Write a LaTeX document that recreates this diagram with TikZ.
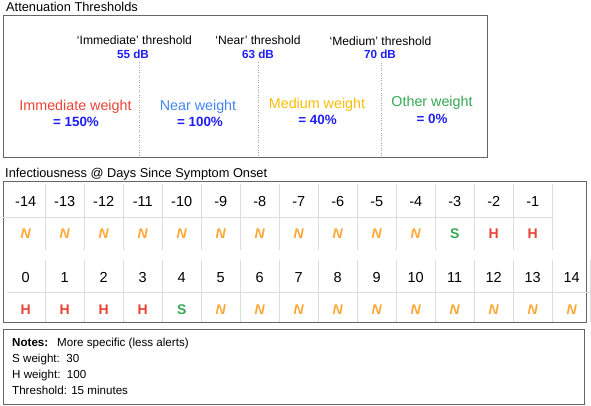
\documentclass[tikz,border=0pt]{standalone}
\usepackage{fontspec}
\setmainfont{Liberation Sans}
\usepackage{tikz}
\definecolor{frame}{HTML}{666666}
\definecolor{gridgray}{HTML}{DDDDDD}
\definecolor{dbblue}{RGB}{30,30,245}
\definecolor{gred}{HTML}{EA4335}
\definecolor{gblue}{HTML}{4285F4}
\definecolor{gyellow}{HTML}{FBBC05}
\definecolor{ggreen}{HTML}{34A853}
\definecolor{norange}{HTML}{FFA634}

\begin{document}
\begin{tikzpicture}[x=1pt,y=-1pt,
        heading/.style={anchor=base west,inner sep=0pt,font=\fontsize{12.8}{14}\selectfont},
        thresh/.style={anchor=base,inner sep=0pt,font=\fontsize{12.1}{14}\selectfont},
        db/.style={anchor=base,inner sep=0pt,text=dbblue,font=\fontsize{11.7}{14}\selectfont\bfseries},
        weight/.style={anchor=base,inner sep=0pt,font=\fontsize{14.3}{16}\selectfont},
        pct/.style={anchor=base,inner sep=0pt,text=dbblue,font=\fontsize{13.4}{16}\selectfont\bfseries},
        day/.style={anchor=base,inner sep=0pt,font=\fontsize{14.5}{16}\selectfont},
        lvl/.style={anchor=base,inner sep=0pt,font=\fontsize{14}{16}\selectfont\bfseries},
        lvlN/.style={lvl,text=norange,font=\fontsize{14}{16}\selectfont\bfseries\itshape},
        lvlH/.style={lvl,text=gred},
        lvlS/.style={lvl,text=ggreen},
        note/.style={anchor=base west,inner sep=0pt,font=\fontsize{11.6}{14}\selectfont},
        panel/.style={draw=frame,line width=1pt},
        cellline/.style={draw=gridgray,line width=0.8pt},
        cut/.style={draw=gray!70,line width=0.8pt,dash pattern=on 1pt off 1.5pt}]
        \useasboundingbox (0,0) rectangle (591,405);

        % attenuation panel
        \node[heading] (attTitle) at (6,11.5) {Attenuation Thresholds};
        \draw[panel] (3,15) rectangle (487,157);
        \node[thresh] (th0) at (134.5,44.5) {‘Immediate’ threshold};
        \node[thresh] (th1) at (258,44.5) {‘Near’ threshold};
        \node[thresh] (th2) at (380.5,45.5) {‘Medium’ threshold};
        \node[db] (db0) at (133,58.3) {55 dB};
        \node[db] (db1) at (258,58.3) {63 dB};
        \node[db] (db2) at (380,58.8) {70 dB};
        \coordinate (c0) at (139,157);
        \coordinate (c1) at (258,157);
        \coordinate (c2) at (381,157);
        \draw[cut] ([yshift=-3.5pt]db0.south -| c0) -- (c0);
        \draw[cut] ([yshift=-3.5pt]db1.south -| c1) -- (c1);
        \draw[cut] ([yshift=-3.5pt]db2.south -| c2) -- (c2);
        \node[weight,text=gred] (w0) at (75.5,110.7) {Immediate weight};
        \node[weight,text=gblue] (w1) at (198,110) {Near weight};
        \node[weight,text=gyellow] (w2) at (317,108.5) {Medium weight};
        \node[weight,text=ggreen] (w3) at (432,106.7) {Other weight};
        \node[pct] (p0) at (76,126.7) {= 150\%};
        \node[pct] (p1) at (200,126) {= 100\%};
        \node[pct] (p2) at (317.5,124.3) {= 40\%};
        \node[pct] (p3) at (432,123.3) {= 0\%};

        % infectiousness panel
        \node[heading] (infTitle) at (5,177.5) {Infectiousness @ Days Since Symptom Onset};
        \draw[panel] (3,181) rectangle (586.5,322.7);
        \foreach \j in {1,...,14} {
                \draw[cellline] (6.2+39*\j,184) -- (6.2+39*\j,250);
                \draw[cellline] (6.2+39*\j,260) -- (6.2+39*\j,322);
        }
        \draw[cellline] (590,260) -- (590,322);
        \draw[cellline] (3,217.5) -- (552.2,217.5);
        \draw[cellline] (7,292.3) -- (590,292.3);
        \foreach \d [count=\k from 0] in {-14,...,-1}
                \node[day] (d\k) at (25.7+39*\k,206) {\d};
        \foreach \t [count=\k from 0] in {N,N,N,N,N,N,N,N,N,N,N,S,H,H}
                \node[lvl\t] (e\k) at (25.7+39*\k,238.3) {\t};
        \foreach \d [count=\k from 0] in {0,...,14}
                \node[day] (f\k) at (25.7+39*\k,282.7) {\d};
        \foreach \t [count=\k from 0] in {H,H,H,H,S,N,N,N,N,N,N,N,N,N,N}
                \node[lvl\t] (g\k) at (25.7+39*\k,314) {\t};

        % notes panel
        \draw[panel] (3,329) rectangle (584,404);
        \node[note,font=\fontsize{11.6}{14}\selectfont\bfseries] (notesKey) at (12,346.7) {Notes:};
        \node[note] (notesVal) at (57,346.7) {More specific (less alerts)};
        \node[note] (sWeight) at (12,362.3) {S weight:\ \ 30};
        \node[note] (hWeight) at (12,378.3) {H weight:\ \ 100};
        \node[note] (thrNote) at (12,394.7) {Threshold: 15 minutes};
\end{tikzpicture}
\end{document}
